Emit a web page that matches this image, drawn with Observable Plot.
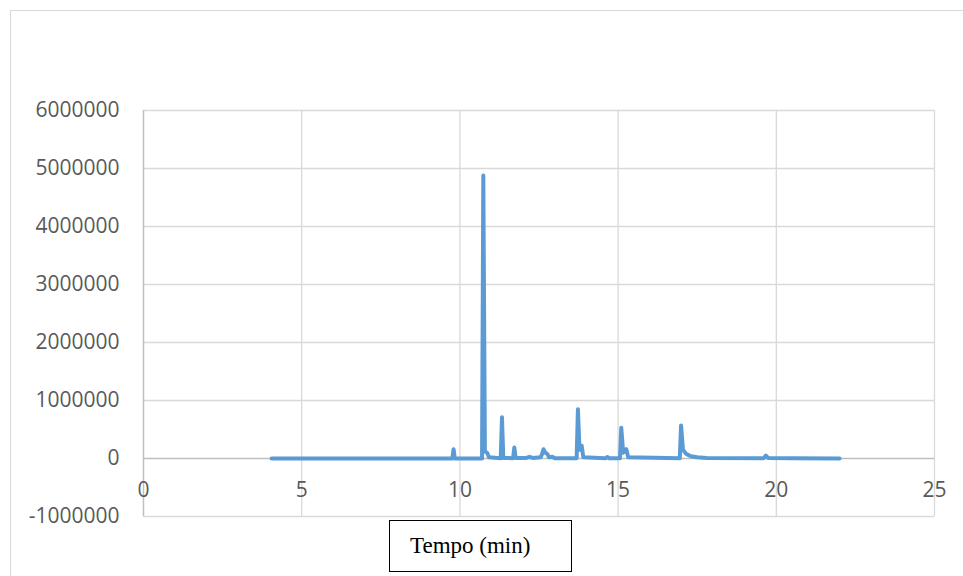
<!DOCTYPE html>
<html>
<head>
<meta charset="utf-8">
<script src="https://cdn.jsdelivr.net/npm/d3@7"></script>
<script src="https://cdn.jsdelivr.net/npm/@observablehq/plot@0.6"></script>
<style>
  html, body { margin: 0; padding: 0; background: #fff; overflow: hidden; }
  #wrap { position: relative; width: 963px; height: 576px; overflow: hidden; }
  #chart { position: absolute; left: 0; top: 0; }
  #frame { position: absolute; left: 10px; top: 10px; width: 970px; height: 620px; border: 1px solid #d9d9d9; box-sizing: border-box; pointer-events: none; }
  #xlabel { position: absolute; left: 389px; top: 520px; width: 183px; height: 52px; box-sizing: border-box; border: 1px solid #000; background: #fff;
    font-family: "Liberation Serif", "Times New Roman", serif; font-size: 23px; color: #000; padding-left: 20px; line-height: 50px; }
</style>
</head>
<body>
<div id="wrap">
  <div id="chart"></div>
  <div id="frame"></div>
  <div id="xlabel">Tempo (min)</div>
</div>
<script>
// Retention time (min)
const time = [
  4.05, 9.76, 9.80, 9.84, 10.70, 10.74, 10.79, 10.86, 10.92,
  11.29, 11.33, 11.37, 11.68, 11.72, 11.76, 12.10, 12.20, 12.30,
  12.55, 12.60, 12.64, 12.70, 12.76, 12.82, 12.92, 13.00,
  13.69, 13.73, 13.78, 13.85, 13.90, 14.60, 14.66, 14.72,
  15.06, 15.10, 15.16, 15.26, 15.32, 16.95, 16.99, 17.05, 17.15, 17.30, 17.50, 17.80,
  19.60, 19.67, 19.74, 20.50, 22.00
];
// Detector intensity
const intensity = [
  0, 0, 160000, 0, 0, 4880000, 120000, 100000, 20000,
  5000, 710000, 10000, 5000, 190000, 10000, 10000, 30000, 10000,
  20000, 80000, 160000, 100000, 80000, 20000, 30000, 5000,
  5000, 850000, 150000, 220000, 20000, 5000, 25000, 5000,
  5000, 530000, 100000, 160000, 20000, 5000, 570000, 150000, 80000, 40000, 20000, 8000,
  5000, 50000, 10000, 3000, 0
];
const xTicks = [0, 5, 10, 15, 20, 25];
const yTicks = [-1000000, 0, 1000000, 2000000, 3000000, 4000000, 5000000, 6000000];

const data = time.map((t, i) => ({t, v: intensity[i]}));
const font = "'Open Sans', 'DejaVu Sans', sans-serif";

const chart = Plot.plot({
  width: 963,
  height: 576,
  marginLeft: 143,
  marginRight: 29,
  marginTop: 110,
  marginBottom: 60,
  style: {background: "transparent", fontFamily: font},
  x: {domain: [0, 25]},
  y: {domain: [-1000000, 6000000]},
  marks: [
    Plot.gridX(xTicks.filter(d => d > 0), {stroke: "#d9d9d9", strokeOpacity: 1, strokeWidth: 1.3}),
    Plot.gridY(yTicks.filter(d => d !== 0), {stroke: "#d9d9d9", strokeOpacity: 1, strokeWidth: 1.3}),
    Plot.ruleY([0], {stroke: "#bfbfbf", strokeWidth: 1.5}),
    Plot.ruleX([0], {stroke: "#bfbfbf", strokeWidth: 1.5}),
    Plot.axisY(yTicks, {tickSize: 0, tickPadding: 24, tickFormat: d => String(d), fontSize: 21, fill: "#595959", label: null}),
    Plot.axisX([], {label: null, tickSize: 0}),
    Plot.text(xTicks, {x: d => d, y: () => 0, dy: 32, text: d => String(d), fontSize: 21, fill: "#595959", fontFamily: font}),
    Plot.line(data, {x: "t", y: "v", stroke: "#5b9bd5", strokeWidth: 4, strokeLinejoin: "round", strokeLinecap: "round"})
  ]
});
document.getElementById("chart").appendChild(chart);
</script>
</body>
</html>
